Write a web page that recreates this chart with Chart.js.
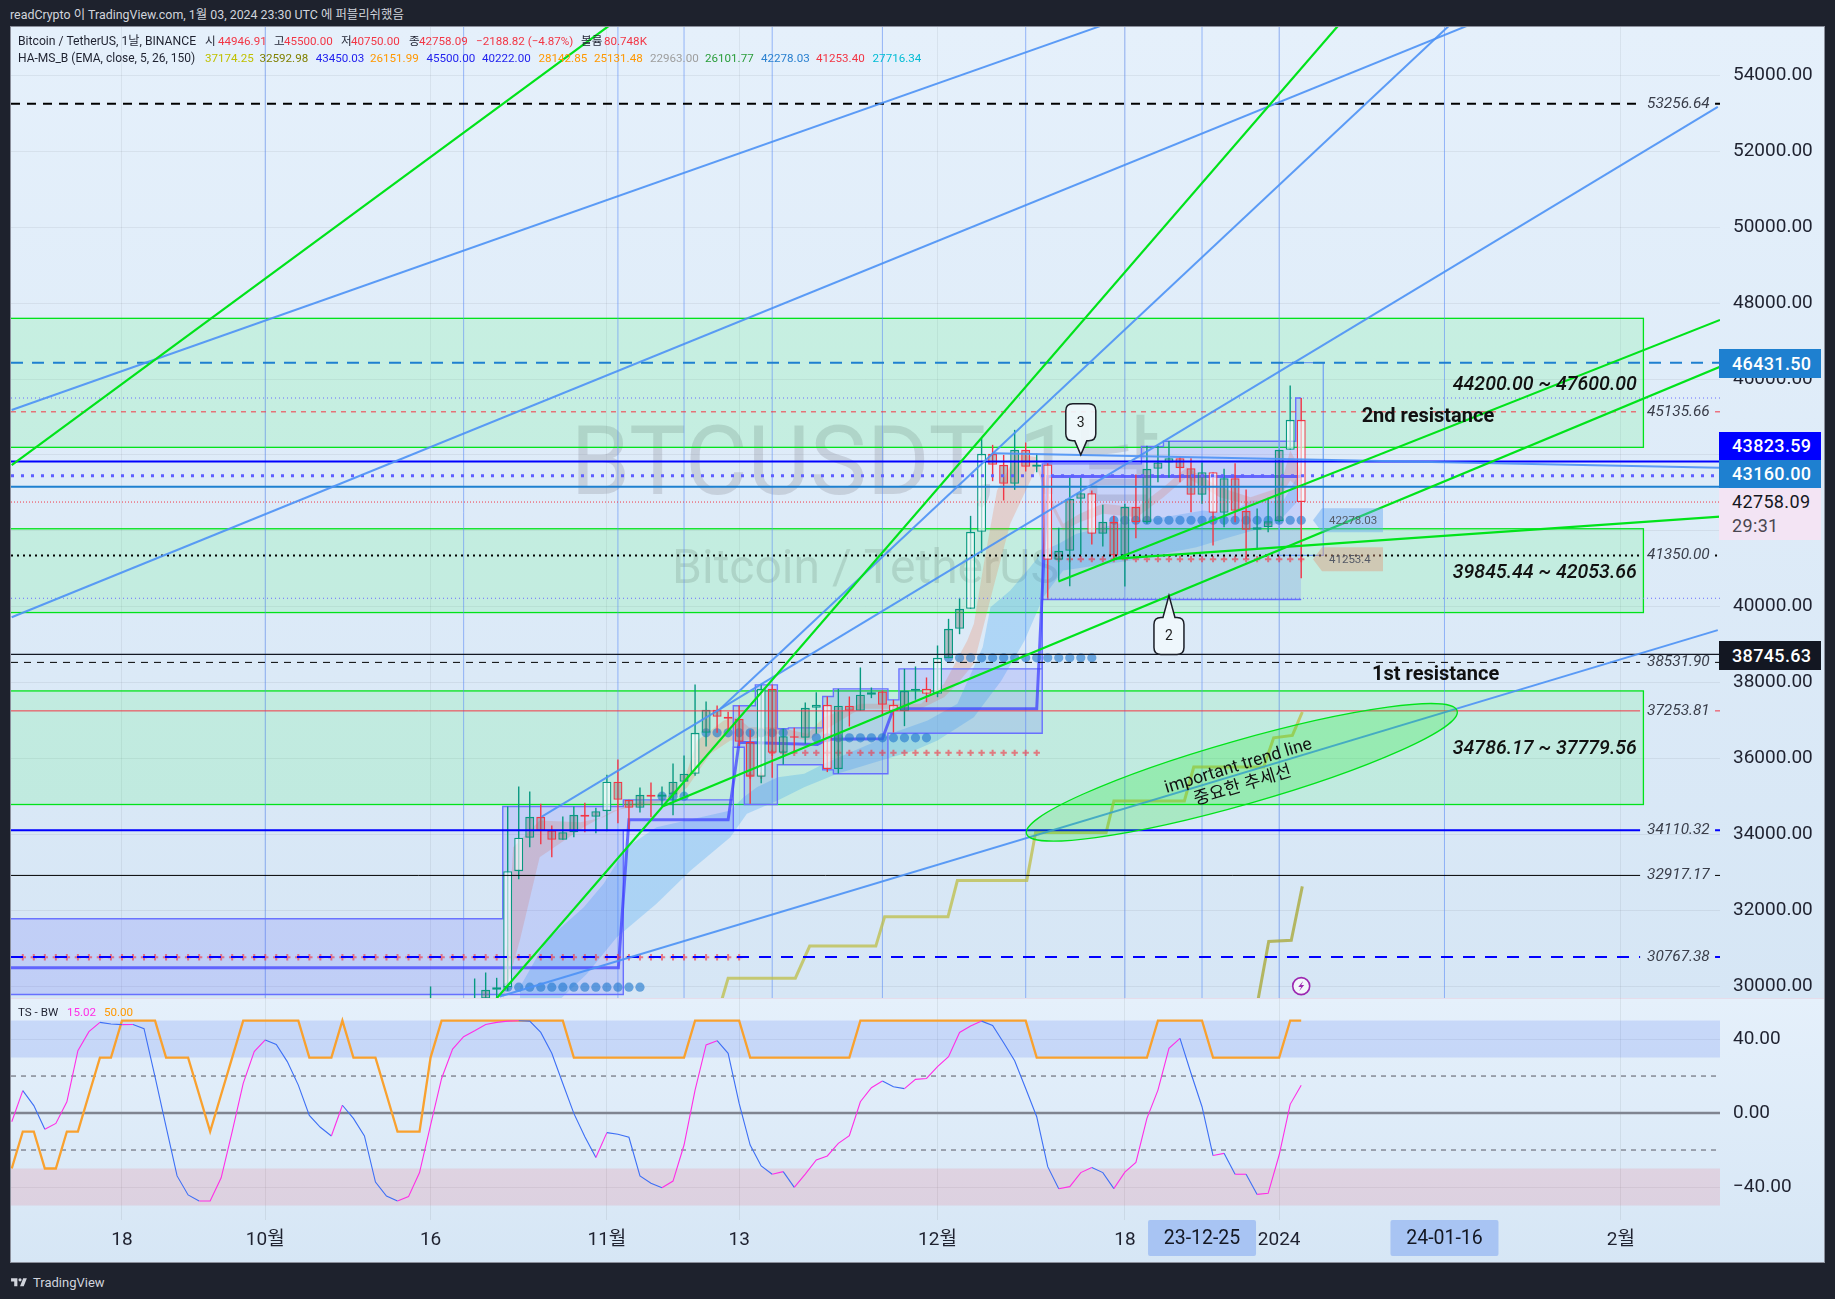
<!DOCTYPE html>
<html lang="ko"><head><meta charset="utf-8">
<script src="https://cdn.jsdelivr.net/npm/chart.js@4/dist/chart.umd.js"></script>
<style>
html,body{margin:0;padding:0;background:#1e222d;width:1835px;height:1299px;overflow:hidden;font-family:Roboto,"Noto Sans CJK KR",sans-serif}
.abs{position:absolute;white-space:nowrap}
#mainPane{left:11px;top:27px;width:1814px;height:971px;background:linear-gradient(#e5f0fb,#d6e6f5)}
#oscPane{left:11px;top:998px;width:1814px;height:265px;background:linear-gradient(#e5f0fb,#d6e6f5);border-top:1px solid #e6dcea;box-sizing:border-box}
#frame{left:10px;top:26px;width:1815px;height:1237px;border:1px solid #8b8f9b;box-sizing:border-box;pointer-events:none}
canvas{position:absolute;display:block}
#head{left:10px;top:6px;font-size:12.4px;color:#d1d4dc;line-height:18px}
.leg{font-size:11.6px;line-height:15px}
.tag{position:absolute;left:1719px;width:102px;box-sizing:border-box;padding-left:13px;font-size:18px;font-weight:500;letter-spacing:.35px;color:#fff;display:flex;flex-direction:column;justify-content:center;line-height:24px}
</style></head><body>
<div class="abs" id="mainPane"></div><div class="abs" id="oscPane"></div>
<canvas id="mainC" width="1814" height="971" style="left:11px;top:27px"></canvas>
<canvas id="oscC" width="1814" height="265" style="left:11px;top:998px"></canvas>
<div class="abs" id="frame"></div>
<div class="abs" id="head">readCrypto 이 TradingView.com, 1월 03, 2024 23:30 UTC 에 퍼블리쉬했음</div>
<div id="legends"></div>
<div id="tags"></div>
<svg class="abs" style="left:10px;top:1275px" width="19" height="15" viewBox="0 0 36 28"><path fill="#d1d4dc" d="M14 6H2v6h6v9h6V6Zm12 15h-7l6-15h7l-6 15Zm-7-9a3 3 0 1 0 0-6 3 3 0 0 0 0 6Z"/></svg>
<div class="abs" style="left:33px;top:1274px;font-size:13px;line-height:17px;color:#d1d4dc">TradingView</div>
<script>
// ---------- candles: day index counted from 18 Sep 2023 ----------
const candleDays=[28,29,30,31,32,33,34,35,36,37,38,39,40,41,42,43,44,45,46,47,48,49,50,51,52,53,54,55,56,57,58,59,60,61,62,63,64,65,66,67,68,69,70,71,72,73,74,75,76,77,78,79,80,81,82,83,84,85,86,87,88,89,90,91,92,93,94,95,96,97,98,99,100,101,102,103,104,105,106,107];
const opens=[27150,28500,28400,28320,28710,29670,29901,29971,33029,33908,34461,34101,33855,34057,34514,34461,34611,35384,34909,34698,35041,34988,35050,35384,35595,36675,37281,37097,37044,36438,35516,37835,36148,36587,36543,37334,37413,35718,37387,37255,37677,37765,37413,37246,37782,37835,37703,38643,39416,39943,41973,44029,43739,43238,44134,43686,43748,41235,41472,42842,42992,41920,42236,41349,42632,42228,43633,43800,43914,43651,42948,43545,42474,43387,42526,42025,42096,42254,44134,44925];
const highs=[29990,28620,28980,29000,30200,30358,30218,34733,35261,35129,34804,34233,34470,34734,34830,34698,35568,35972,34909,35234,35366,35261,35867,36078,37949,37501,37396,37229,37396,36754,37949,37949,36781,36807,37475,37747,37633,37835,37633,38397,37870,37791,37545,38362,38424,38134,38977,39680,40233,42394,44442,44266,44002,44661,44327,44029,43780,42078,43396,43396,43062,42684,42394,42711,43484,44239,44239,44362,43941,43914,43809,43545,43633,43783,43088,42588,42869,44134,45830,45500];
const lows=[27110,28090,28130,28180,28680,29480,29590,29880,32818,33662,33741,33398,33855,33925,34057,34031,34083,34294,34118,34575,34452,34742,34505,35006,35542,36315,36675,36719,36330,34804,35349,35489,35841,36139,36385,36649,35640,35603,36842,37255,37589,37123,36684,36851,37545,37484,37615,38643,39275,39943,41410,43308,42799,43080,43563,43545,40189,40690,40540,41366,41639,41586,41261,40532,41806,42184,43282,43396,43282,42491,42711,41612,42096,42228,41261,41516,41964,42228,44134,40750];
const closes=[28500,28400,28320,28710,29670,29901,29971,33029,33908,34461,34101,33855,34057,34514,34461,34611,35384,34909,34698,35041,34988,35050,35384,35595,36675,37281,37097,37044,36438,35516,37835,36148,36587,36543,37334,37413,35718,37387,37255,37677,37747,37413,37246,37782,37835,37703,38652,39416,39943,41973,44029,43739,43238,44134,43686,43748,41235,41472,42842,42992,41920,42236,41349,42632,42228,43633,43800,43914,43651,42948,43545,42474,43387,42526,42025,42096,42254,44134,44925,42758];
const bodyShade='ggggggg'+'wwgggggwgw'+'gggwgggwgg'+'wggwggwgww'+'gggggwgwww'+'ggwwggggww'+'gggwgggggg'+'ggggwgggwg'+'gww';

// ---------- time and price axes ----------
const tickDays=[0,13,28,44,56,74,91,105,136];
const tickLabels=['18','10월','16','11월','13','12월','18','2024','2월'];
const priceTicks=[30000,32000,34000,36000,38000,40000,42000,44000,46000,48000,50000,52000,54000];
const oscTicks=[40,0,-40];
const xMin=-10.07,xMax=145,yMin=29686,yMax=55279,oscMin=-57.84,oscMax=62.2;

// ---------- horizontal levels: price, colour, width, dash, label ----------
const levelPrices=[53256.64,46431.50,45500,45135.66,43823.59,43450,43160,42758.09,41350,40222,38745.63,38531.90,37253.81,34110.32,32917.17,30767.38];
const levelLabels=['53256.64','','','45135.66','','','','','41350.00','','','38531.90','37253.81','34110.32','32917.17','30767.38'];
const levelColors=['#000','#1e80d0','#6a6aff','#f23645','#0000ff','#5f5fff','#1e80d0','#f23645','#000','#6a6aff','#131722','#000','#f23645','#0000ff','#000','#0000ff'];
const levelWidths=[2,2,1,1,2,3,2,1,2,1,1.3,1,1,2,1,2];
const levelDashes=[[9,7],[12,9],[1,3],[5,5],[],[3,7],[],[1,2],[2,4],[1,3],[],[7,6],[],[],[],[12,10]];

// ---------- green zones ----------
const zoneTops=[47600,42053.66,37779.56];
const zoneBottoms=[44200,39845.44,34786.17];
const zoneRight=138.05;
const zoneTexts=['44200.00 ~ 47600.00','39845.44 ~ 42053.66','34786.17 ~ 37779.56'];
const zoneTextPrices=[45831,40895,36236];

// ---------- trend lines: [day, price, day, price] ----------
const blueLines=[[-10.01,45183,88.76,55302],[-10.01,39722,122.5,55363],[54.3,37308,120.6,55363],[38.06,34461,144.8,53173],[34.28,29727,144.8,39383],[79.07,44046,145,43661]];
const greenLines=[[-10.01,43733,44.15,55302],[33.96,29665,110.5,55363],[49.09,34742,145,46324],[84.97,40664,145,47558],[89.96,41261,145,42375]];
const verticalDays=[13,31,45,51,59,69,82,91,98,105,120];

// ---------- stepped box ----------
const boxDays=[-10.07,34.55,45.49,55.47,56.47,57.47,59.47,60.47,63.58,64.55,69.5,70.5,83.5,92.5,94.5,105,106.5,107];
const boxTops=[31773,34733,34909,37387,37387,37940,36781,36807,37633,37835,37545,38362,43765,44222,44362,44362,45500,45500];
const boxBottoms=[29779,29779,34101,36297,34786,34786,35832,35832,35700,35595,36666,36666,40189,40189,40189,40189,40189,40189];
const lastRange=[105,109,46431.5,41350];

// ---------- thick step line ----------
const stepDays=[-10.07,45.04,46,55,56,63.1,64,69,70,83,84,107];
const stepValues=[30481,30481,34382,34382,36429,36368,36508,36517,37308,37308,43431,43431];

// ---------- olive lines ----------
const oliveDays=[54.45,55,61.1,62.4,68.4,69.2,74.95,75.8,82.1,82.9,89.3,90,96.4,97.25,103.6,104.5,106.2,107.1];
const oliveValues=[29665,30208,30208,31054,31054,31825,31825,32781,32781,34046,34046,34879,34879,35773,35773,36545,36607,37224];
const olive2Days=[103.1,104.05,106.1,107.1];
const olive2Values=[29665,31177,31208,32627];

// ---------- ribbons ----------
const blueUpperDays=[36.1,38.5,41.9,43.7,45.8,48.5,55.2,56.4,57.6,59.5,61.9,63.7,67.9,70.1,73.1,75.8,78.1,78.8,80.6,82.4,83.6,85,86.6,90.3,94.5,98.1,100.5,102.4,105.4,106.6,107];
const blueUpper=[29972,31202,32080,32695,33662,34189,34628,34980,35243,35507,35595,35858,36385,36693,37000,37440,38933,39987,40426,41041,41481,41656,41920,42184,42359,42535,42447,42799,42799,43414,43590];
const blueLowerDays=[34,39.8,42.2,44.9,48.5,51.6,55.2,56.7,59.5,61.9,64.9,67.9,71.9,74,77.3,79.8,81.9,83.6,85.4,91.5,97.5,100.5,104.8,107];
const blueLower=[28000,29664,30323,31289,32168,33047,33925,34540,34892,35243,35595,35858,36210,36473,37088,38055,39109,40251,40954,41217,41568,41832,42184,42886];
const tanUpperDays=[34.3,35,35.5,37.9,41.6,43.7,46.1,49.5,51,52.2,54.6,55.8,56.9,59.5,62.2,63.7,67,70.1,72.5,74.6,76.7,77.3,78.2,79.4,81.2,83,83.9,85.4,86.9,89,92.1,94.5,96.6,99.6,102.4,105.1,106,107];
const tanUpper=[29664,31202,33662,34365,34321,34452,34804,34980,35419,36473,37000,37088,36825,36825,36649,37088,37440,37440,37440,37967,39109,39548,41129,43062,44029,43941,43062,42184,42447,42711,42623,43150,43677,43150,42887,43150,44116,43590];
const tanLowerDays=[34.6,36.1,37.9,41.9,44.6,49.8,51.3,53.4,55.2,56.4,59.5,62.2,63.7,67,72.5,74.6,75.8,77.3,79,80.6,83,83.9,85.4,86.9,89,92.1,94.5,96.6,99.6,102.4,105.1,106,107];
const tanLower=[29664,31202,33398,34189,34628,34892,35243,36122,36473,36473,36649,36473,36737,37308,37308,37615,37967,38493,40426,42184,43677,42887,42008,42228,42447,42359,42887,43414,42887,42667,42887,43326,43062];

// ---------- marker runs: first day, last day, price ----------
const dotRuns=[[35,47,29972],[49,51,35006],[53,60,36675],[63,73,36543],[75,88,38652],[90,107,42278]];
const crossRuns=[[-9,56,30762],[57,58,35551],[59,83,36148],[85,107,41253]];

// ---------- oscillator (day -10 to day 107) ----------
const oscDays=[-10,-9,-8,-7,-6,-5,-4,-3,-2,-1,0,1,2,3,4,5,6,7,8,9,10,11,12,13,14,15,16,17,18,19,20,21,22,23,24,25,26,27,28,29,30,31,32,33,34,35,36,37,38,39,40,41,42,43,44,45,46,47,48,49,50,51,52,53,54,55,56,57,58,59,60,61,62,63,64,65,66,67,68,69,70,71,72,73,74,75,76,77,78,79,80,81,82,83,84,85,86,87,88,89,90,91,92,93,94,95,96,97,98,99,100,101,102,103,104,105,106,107];
const bwValues=[-4.7,12.1,4,-8.8,-5.6,6.1,33.7,44,49,48.1,47.8,47.9,45.6,19.6,-7.4,-34,-44.3,-47.6,-47.6,-35,-10.1,16,33.2,39.5,37.1,27.8,15.1,-1.3,-7.7,-12.4,4.2,-2.9,-12.4,-37.3,-44.9,-47.6,-45.2,-32.2,-6.5,18.7,34.6,41.3,44.5,47.9,49,49.7,49.9,49.7,43.6,32.3,16,-0.2,-12.8,-24,-10.6,-11.5,-13.1,-34,-38,-40.4,-36.8,-17.3,12.4,36.8,39.1,32.3,5.2,-17.3,-28.6,-33.1,-31.7,-40.2,-33,-25.4,-23.2,-16.4,-12.2,6.1,13.7,17.3,14.2,13.2,18.2,18.7,25.1,30.5,43.6,47,49.7,47.4,38,28.3,13.3,-2,-29,-40.9,-39.8,-32.2,-29.5,-32.2,-40.9,-32,-26.7,-2.9,12.4,35,40.4,21.5,3.4,-23,-21.8,-33.1,-33.1,-44,-43.4,-22.7,4.7,15.02];
const signalValues=[-30,-10,-10,-30,-30,-10,-10,10,30,30,50,50,50,50,30,30,30,10,-10,10,30,50,50,50,50,50,50,30,30,30,50,30,30,30,10,-10,-10,-10,30,50,50,50,50,50,50,50,50,50,50,50,50,30,30,30,30,30,30,30,30,30,30,30,50,50,50,50,50,30,30,30,30,30,30,30,30,30,30,50,50,50,50,50,50,50,50,50,50,50,50,50,50,50,50,30,30,30,30,30,30,30,30,30,30,30,50,50,50,50,50,30,30,30,30,30,30,30,50,50];

// ---------- side texts ----------
const plainTexts=[['2nd resistance',118.5,45000],['1st resistance',119.2,38190]];
const trendTexts=[['important trend line',101.3,35790],['중요한 추세선',101.7,35270]];
const callouts=[['3',87,44002,-1],['2',95,40295,1]];
const trendEllipse=[82.07,34015,121.15,37254];
const pills=[['42278.03',108.07,42278.03,'rgba(90,165,240,.42)'],['41253.4',108.07,41253.4,'rgba(222,150,120,.42)']];
const datePills=[['23-12-25',98],['24-01-16',120]];

const FONT='Roboto,"Noto Sans CJK KR",sans-serif';
const G='#089981',R='#f23645';
Chart.defaults.animation=false;Chart.defaults.devicePixelRatio=1;

function line(xs,ys,color,width,order,extra){
  return Object.assign({type:'line',data:xs.map((x,i)=>({x,y:ys[i]})),borderColor:color,borderWidth:width,pointRadius:0,tension:0,fill:false,order},extra||{});
}
const expand=r=>{const o=[];r.forEach(([a,b,p])=>{for(let d=a;d<=b;d++)o.push({x:d,y:p})});return o};
const fitY=s=>{s.width=105;s.paddingTop=0;s.paddingBottom=0};

const ds=[];
// ribbons
ds.push(line(blueUpperDays,blueUpper,'transparent',0,52,{fill:{target:'+1'},backgroundColor:'rgba(33,150,243,.24)'}));
ds.push(line(blueLowerDays,blueLower,'transparent',0,52));
ds.push(line(tanUpperDays,tanUpper,'transparent',0,51,{fill:{target:'+1'},backgroundColor:'rgba(240,110,60,.22)'}));
ds.push(line(tanLowerDays,tanLower,'transparent',0,51));
// stepped box
ds.push(line(boxDays,boxTops,'#6a73ff',1.4,45,{stepped:'before',fill:{target:'+1'},backgroundColor:'rgba(80,80,255,.16)'}));
ds.push(line(boxDays,boxBottoms,'#6a73ff',1.4,45,{stepped:'before'}));
// last range box
ds.push(line([lastRange[0],lastRange[0],lastRange[1],lastRange[1],lastRange[0]],[lastRange[3],lastRange[2],lastRange[2],lastRange[3],lastRange[3]],'#6f9ff2',1.2,44,{fill:true,backgroundColor:'rgba(70,140,225,.13)'}));
// verticals
verticalDays.forEach(d=>ds.push(line([d,d],[yMin,yMax],'rgba(92,140,245,.6)',1,60)));
// olive + step
ds.push(line(oliveDays,oliveValues,'rgba(190,190,70,.75)',3,35));
ds.push(line(olive2Days,olive2Values,'rgba(170,170,60,.8)',3,35));
ds.push(line(stepDays,stepValues,'rgba(60,60,255,.72)',3,30));
// candles
ds.push({type:'bar',data:candleDays.map((d,i)=>({x:d,y:[lows[i],highs[i]]})),backgroundColor:closes.map((c,i)=>c>=opens[i]?G:R),borderWidth:0,barThickness:1.4,grouped:false,inflateAmount:0,order:11});
ds.push({type:'bar',data:candleDays.map((d,i)=>({x:d,y:[opens[i],closes[i]]})),
  backgroundColor:candleDays.map((d,i)=>bodyShade[i]==='w'?'rgba(255,255,255,.6)':'rgba(110,110,110,.36)'),
  borderColor:closes.map((c,i)=>c>=opens[i]?G:R),borderWidth:1.3,borderSkipped:false,barThickness:9,grouped:false,inflateAmount:0,order:10});
// markers
ds.push({type:'line',data:expand(crossRuns),showLine:false,pointStyle:'cross',pointRadius:3.2,pointBorderWidth:2,pointBorderColor:'rgba(242,54,69,.62)',order:12});
ds.push({type:'line',data:expand(dotRuns),showLine:false,pointStyle:'circle',pointRadius:4.6,pointBorderWidth:0,pointBackgroundColor:'rgba(33,120,205,.62)',order:13});
// trend lines
blueLines.forEach(l=>ds.push(line([l[0],l[2]],[l[1],l[3]],'rgba(75,145,245,.9)',2,4)));
greenLines.forEach(l=>ds.push(line([l[0],l[2]],[l[1],l[3]],'#00e31a',2.2,3)));
// levels, opening a gap for the text
levelPrices.forEach((p,i)=>{
  const d={borderDash:levelDashes[i]};
  if(levelLabels[i]) ds.push(line([xMin,137.75,137.75,144.55,xMax],[p,p,null,p,p],levelColors[i],levelWidths[i],5,d));
  else ds.push(line([xMin,xMax],[p,p],levelColors[i],levelWidths[i],5,d));
});

function rr(c,x,y,w,h,r){c.beginPath();c.roundRect(x,y,w,h,r);}
const under={id:'under',beforeDatasetsDraw(ch){
  const c=ch.ctx,X=ch.scales.x,Y=ch.scales.y,a=ch.chartArea;
  c.save();
  c.textAlign='center';c.textBaseline='middle';c.fillStyle='rgba(120,123,134,.24)';
  c.font='96px '+FONT;c.fillText('BTCUSDT, 1날',(a.left+a.right)/2,443);
  c.font='48px '+FONT;c.fillText('Bitcoin / TetherUS',(a.left+a.right)/2,544);
  zoneTops.forEach((t,i)=>{
    const y0=Y.getPixelForValue(t),y1=Y.getPixelForValue(zoneBottoms[i]),x1=X.getPixelForValue(zoneRight);
    c.fillStyle='rgba(0,255,40,.115)';c.fillRect(a.left,y0,x1-a.left,y1-y0);
    c.strokeStyle='#00e31a';c.lineWidth=1.3;c.strokeRect(a.left-2,y0,x1-a.left+2,y1-y0);
  });
  c.restore();
}};
const over={id:'over',afterDatasetsDraw(ch){
  const c=ch.ctx,X=ch.scales.x,Y=ch.scales.y;
  const px=d=>X.getPixelForValue(d),py=p=>Y.getPixelForValue(p);
  c.save();
  // ellipse
  const x0=px(trendEllipse[0]),y0=py(trendEllipse[1]),x1=px(trendEllipse[2]),y1=py(trendEllipse[3]);
  c.beginPath();c.ellipse((x0+x1)/2,(y0+y1)/2,Math.hypot(x1-x0,y1-y0)/2,32,Math.atan2(y1-y0,x1-x0),0,Math.PI*2);
  c.fillStyle='rgba(0,230,20,.22)';c.fill();c.strokeStyle='#00e31a';c.lineWidth=1.3;c.stroke();
  // level labels
  c.textBaseline='middle';c.textAlign='left';c.font='italic 15.4px '+FONT;c.fillStyle='#3a3e4a';
  levelLabels.forEach((t,i)=>{if(t)c.fillText(t,px(137.75)+7,py(levelPrices[i]));});
  // zone texts
  c.textAlign='center';c.fillStyle='#111';c.font='italic 500 19.6px '+FONT;
  zoneTexts.forEach((t,i)=>c.fillText(t,px(129.1),py(zoneTextPrices[i])));
  c.font='bold 20px '+FONT;
  plainTexts.forEach(([t,d,p])=>c.fillText(t,px(d),py(p)));
  // rotated
  c.font='17.5px '+FONT;
  trendTexts.forEach(([t,d,p])=>{c.save();c.translate(px(d),py(p));c.rotate(-17*Math.PI/180);c.fillText(t,0,0);c.restore();});
  // callouts
  callouts.forEach(([t,d,p,dir])=>{
    const tx=px(d),ty=py(p),w=30,h=37,gap=14;
    const top=dir<0?ty-gap-h:ty+gap+8,bot=top+h,l=tx-w/2,r=7;
    c.beginPath();
    c.moveTo(l+r,top);
    if(dir>0){c.lineTo(tx-6,top);c.lineTo(tx,ty);c.lineTo(tx+6,top);}
    c.lineTo(l+w-r,top);c.quadraticCurveTo(l+w,top,l+w,top+r);c.lineTo(l+w,bot-r);c.quadraticCurveTo(l+w,bot,l+w-r,bot);
    if(dir<0){c.lineTo(tx+6,bot);c.lineTo(tx,ty);c.lineTo(tx-6,bot);}
    c.lineTo(l+r,bot);c.quadraticCurveTo(l,bot,l,bot-r);c.lineTo(l,top+r);c.quadraticCurveTo(l,top,l+r,top);c.closePath();
    c.fillStyle='rgba(240,247,252,.92)';c.fill();c.strokeStyle='#1a1d26';c.lineWidth=1.5;c.stroke();
    c.fillStyle='#222';c.font='14px '+FONT;c.textAlign='center';c.fillText(t,tx,(top+bot)/2+1);
  });
  // pills
  pills.forEach(([t,d,p,col])=>{
    const x=px(d),y=py(p);
    c.beginPath();c.moveTo(x,y);c.lineTo(x+9,y-12);c.lineTo(x+70,y-12);c.lineTo(x+70,y+12);c.lineTo(x+9,y+12);c.closePath();
    c.fillStyle=col;c.fill();c.fillStyle='#555a66';c.font='11.5px '+FONT;c.textAlign='left';c.fillText(t,x+16,y+1);
  });
  // alert bolt
  const bx=px(107),by=py(30000);
  c.beginPath();c.arc(bx,by,8.5,0,Math.PI*2);c.fillStyle='#f3f6fb';c.fill();c.strokeStyle='#9c27b0';c.lineWidth=1.6;c.stroke();
  c.beginPath();c.moveTo(bx+2,by-5);c.lineTo(bx-3,by+1);c.lineTo(bx,by+1);c.lineTo(bx-2,by+5);c.lineTo(bx+3,by-1);c.lineTo(bx,by-1);c.closePath();c.fillStyle='#9c27b0';c.fill();
  c.restore();
}};

const tickFont={family:FONT,size:19};
new Chart(document.getElementById('mainC'),{type:'line',data:{datasets:ds},plugins:[under,over],options:{
  responsive:false,events:[],layout:{padding:0,autoPadding:false},
  plugins:{legend:{display:false},tooltip:{enabled:false}},
  scales:{
    x:{type:'linear',min:xMin,max:xMax,offset:false,afterBuildTicks:s=>{s.ticks=tickDays.map(v=>({value:v}))},
       afterFit:s=>{s.height=0;s.paddingLeft=0;s.paddingRight=0},
       ticks:{display:false},border:{display:false},grid:{offset:false,color:'rgba(42,46,57,.07)',drawTicks:false}},
    y:{type:'linear',position:'right',min:yMin,max:yMax,afterBuildTicks:s=>{s.ticks=priceTicks.map(v=>({value:v}))},
       afterFit:fitY,ticks:{font:tickFont,color:'#1f2230',padding:13,callback:v=>Number(v).toFixed(2)},
       border:{display:false},grid:{color:'rgba(42,46,57,.07)',drawTicks:false}}
  }}});

const oscUnder={id:'oscUnder',beforeDatasetsDraw(ch){
  const c=ch.ctx,Y=ch.scales.y,a=ch.chartArea;
  c.fillStyle='rgba(30,80,240,.14)';c.fillRect(a.left,Y.getPixelForValue(50),a.right-a.left,Y.getPixelForValue(30)-Y.getPixelForValue(50));
  c.fillStyle='rgba(240,80,100,.15)';c.fillRect(a.left,Y.getPixelForValue(-30),a.right-a.left,Y.getPixelForValue(-50)-Y.getPixelForValue(-30));
}};
const oscOver={id:'oscOver',afterDraw(ch){
  const c=ch.ctx,X=ch.scales.x,a=ch.chartArea;
  c.save();c.textAlign='center';c.textBaseline='middle';
  datePills.forEach(([t,d])=>{
    const x=X.getPixelForValue(d);
    c.fillStyle='#a8c4f3';rr(c,x-54,a.bottom,108,36,2);c.fill();
    c.fillStyle='#131722';c.font='19.5px '+FONT;c.fillText(t,x,a.bottom+19);
  });
  c.restore();
}};
const flat=(v,col,w,dash)=>line([xMin,xMax],[v,v],col,w,20,{borderDash:dash});
new Chart(document.getElementById('oscC'),{type:'line',data:{datasets:[
  flat(20,'#787b86',1.3,[5,5]),flat(-20,'#787b86',1.3,[5,5]),flat(0,'#7f8490',2.4,[]),
  line(oscDays,signalValues,'#f9a12e',2.3,6),
  line(oscDays,bwValues,'#3d6ff5',1.1,5,{segment:{borderColor:s=>s.p1.parsed.y>=s.p0.parsed.y?'#ff2ee6':'#3d6ff5'}})
]},plugins:[oscUnder,oscOver],options:{
  responsive:false,events:[],layout:{padding:0,autoPadding:false},
  plugins:{legend:{display:false},tooltip:{enabled:false}},
  scales:{
    x:{type:'linear',min:xMin,max:xMax,offset:false,afterBuildTicks:s=>{s.ticks=tickDays.map(v=>({value:v}))},
       afterFit:s=>{s.height=43;s.paddingLeft=0;s.paddingRight=0},
       ticks:{font:tickFont,color:'#1f2230',padding:9,maxRotation:0,autoSkip:false,callback:v=>tickLabels[tickDays.indexOf(v)]},
       border:{display:false},grid:{offset:false,color:'rgba(42,46,57,.08)',drawTicks:false}},
    y:{type:'linear',position:'right',min:oscMin,max:oscMax,afterBuildTicks:s=>{s.ticks=oscTicks.map(v=>({value:v}))},
       afterFit:fitY,ticks:{font:tickFont,color:'#1f2230',padding:13,callback:v=>(v<0?'−':'')+Math.abs(v).toFixed(2)},
       border:{display:false},grid:{color:'rgba(42,46,57,.07)',drawTicks:false}}
  }}});

// ---------- legends and price tags ----------
const legendItems=[
 [18,34,'Bitcoin / TetherUS, 1날, BINANCE','#1f2230',12.2],[205,34,'시','#1f2230'],[218,34,'44946.91',R],[274,34,'고','#1f2230'],[284,34,'45500.00',R],[341,34,'저','#1f2230'],[351,34,'40750.00',R],[409,34,'종','#1f2230'],[419,34,'42758.09',R],[476,34,'−2188.82 (−4.87%)',R],[581,34,'볼륨','#1f2230'],[604,34,'80.748K',R],
 [18,51,'HA-MS_B (EMA, close, 5, 26, 150)','#1f2230',12],[205,51,'37174.25','#c0c000'],[259.5,51,'32592.98','#808000'],[315.7,51,'43450.03','#2222ee'],[370,51,'26151.99','#ff9800'],[426.5,51,'45500.00','#2222ee'],[482,51,'40222.00','#2222ee'],[538.5,51,'28142.85','#ff9800'],[594,51,'25131.48','#ff9800'],[650,51,'22963.00','#9e9e9e'],[705,51,'26101.77','#2a9d3a'],[761,51,'42278.03','#2a80d0'],[816,51,'41253.40',R],[872.6,51,'27716.34','#00bcd4'],
 [18,1005,'TS - BW','#1f2230'],[67,1005,'15.02','#ff2ee6'],[104,1005,'50.00','#ff9800']];
document.getElementById('legends').innerHTML=legendItems.map(([x,y,t,c,f])=>`<div class="abs leg" style="left:${x}px;top:${y}px;color:${c}${f?';font-size:'+f+'px':''}">${t}</div>`).join('');
const tagItems=[[349,29,'46431.50','#1e80d0'],[432,28,'43823.59','#0000ff'],[460,28,'43160.00','#1e80d0'],[641,29,'38745.63','#131722']];
document.getElementById('tags').innerHTML=tagItems.map(([y,h,t,b])=>`<div class="tag" style="top:${y}px;height:${h}px;background:${b}">${t}</div>`).join('')+
 `<div class="tag" style="top:488px;height:52px;background:#f3e4f4;color:#131722;font-weight:400"><span>42758.09</span><span style="color:#4a4650">29:31</span></div>`;
</script>
</body></html>
